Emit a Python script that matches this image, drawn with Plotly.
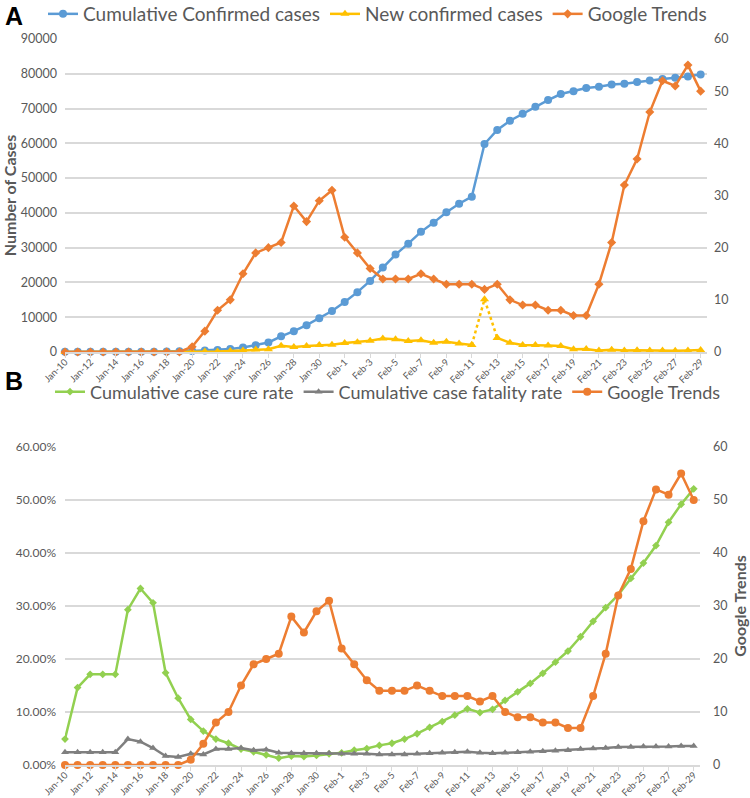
import plotly.graph_objects as go

W, H = 750, 798

dates = ([f"Jan-{d}" for d in range(10, 32)] + [f"Feb-{d}" for d in range(1, 30)])
tick_labels = dates[::2]

cum_confirmed = [41, 41, 41, 41, 41, 41, 45, 62, 121, 198,
                 291, 440, 571, 830, 1287, 1975, 2744, 4515, 5974, 7711,
                 9692, 11791, 14380, 17205, 20438, 24324, 28018, 31161, 34546, 37198,
                 40171, 42638, 44653, 59804, 63851, 66492, 68500, 70548, 72436, 74185,
                 75002, 75891, 76288, 76936, 77150, 77658, 78064, 78497, 78824, 79251,
                 79824]
new_cases = [0, 0, 0, 0, 0, 0, 4, 17, 59, 77,
             93, 149, 131, 259, 457, 688, 769, 1771, 1459, 1737,
             1981, 2099, 2589, 2825, 3233, 3886, 3694, 3143, 3385, 2652,
             2973, 2467, 2015, 15152, 4047, 2641, 2008, 2048, 1888, 1749,
             820, 889, 397, 648, 409, 508, 406, 433, 327, 427,
             573]
google_trends = [0, 0, 0, 0, 0, 0, 0, 0, 0, 0,
                 1, 4, 8, 10, 15, 19, 20, 21, 28, 25,
                 29, 31, 22, 19, 16, 14, 14, 14, 15, 14,
                 13, 13, 13, 12, 13, 10, 9, 9, 8, 8,
                 7, 7, 13, 21, 32, 37, 46, 52, 51, 55,
                 50]
cure_rate = [0.049, 0.146, 0.171, 0.171, 0.171, 0.293, 0.333, 0.306, 0.174, 0.126,
             0.086, 0.064, 0.049, 0.041, 0.030, 0.025, 0.019, 0.013, 0.017, 0.016,
             0.018, 0.021, 0.023, 0.028, 0.031, 0.037, 0.041, 0.049, 0.059, 0.071,
             0.082, 0.094, 0.106, 0.099, 0.105, 0.122, 0.138, 0.154, 0.173, 0.194,
             0.215, 0.242, 0.271, 0.297, 0.321, 0.352, 0.381, 0.414, 0.458, 0.492,
             0.521]
fatality_rate = [0.024, 0.024, 0.024, 0.024, 0.024, 0.049, 0.044, 0.032, 0.017, 0.015,
                 0.021, 0.020, 0.030, 0.030, 0.032, 0.028, 0.029, 0.023, 0.022, 0.022,
                 0.022, 0.022, 0.021, 0.021, 0.021, 0.020, 0.020, 0.020, 0.021, 0.022,
                 0.023, 0.024, 0.025, 0.023, 0.022, 0.023, 0.024, 0.025, 0.026, 0.027,
                 0.028, 0.030, 0.031, 0.032, 0.034, 0.034, 0.035, 0.035, 0.035, 0.036,
                 0.036]

BLUE = "#5B9BD5"
YELLOW = "#FFC000"
ORANGE = "#ED7D31"
GREEN = "#92D050"
GRAY = "#7F7F7F"
TXT = "#595959"
GRID = "#D9D9D9"
FONT = "Lato"

# spike segment (dotted) for new cases
spike = dates.index("Feb-12")
new_solid = [v if i != spike else None for i, v in enumerate(new_cases)]

fig = go.Figure()

# Panel A
fig.add_trace(go.Scatter(x=dates, y=cum_confirmed, name="Cumulative Confirmed cases",
                         mode="lines+markers", line=dict(color=BLUE, width=2.5),
                         marker=dict(symbol="circle", size=8, color=BLUE),
                         xaxis="x", yaxis="y", legend="legend", cliponaxis=False))
fig.add_trace(go.Scatter(x=dates, y=new_solid, name="New confirmed cases",
                         mode="lines+markers", line=dict(color=YELLOW, width=2.5),
                         marker=dict(symbol="triangle-up", size=8, color=YELLOW),
                         connectgaps=False,
                         xaxis="x", yaxis="y", legend="legend", cliponaxis=False))
fig.add_trace(go.Scatter(x=dates[spike - 1:spike + 2], y=new_cases[spike - 1:spike + 2],
                         mode="lines+markers", line=dict(color=YELLOW, width=2.5, dash="dot"),
                         marker=dict(symbol="triangle-up", size=8, color=YELLOW),
                         showlegend=False, xaxis="x", yaxis="y", cliponaxis=False))
fig.add_trace(go.Scatter(x=dates, y=google_trends, name="Google Trends",
                         mode="lines+markers", line=dict(color=ORANGE, width=2.5),
                         marker=dict(symbol="diamond", size=7, color=ORANGE),
                         xaxis="x", yaxis="y2", legend="legend", cliponaxis=False))

# Panel B
fig.add_trace(go.Scatter(x=dates, y=cure_rate, name="Cumulative case cure rate",
                         mode="lines+markers", line=dict(color=GREEN, width=2.5),
                         marker=dict(symbol="diamond", size=6, color=GREEN),
                         xaxis="x2", yaxis="y3", legend="legend2", cliponaxis=False))
fig.add_trace(go.Scatter(x=dates, y=fatality_rate, name="Cumulative case fatality rate",
                         mode="lines+markers", line=dict(color=GRAY, width=2.5),
                         marker=dict(symbol="triangle-up", size=7, color=GRAY),
                         xaxis="x2", yaxis="y3", legend="legend2", cliponaxis=False))
fig.add_trace(go.Scatter(x=dates, y=google_trends, name="Google Trends",
                         mode="lines+markers", line=dict(color=ORANGE, width=2.5),
                         marker=dict(symbol="circle", size=8, color=ORANGE),
                         xaxis="x2", yaxis="y4", legend="legend2", cliponaxis=False))


def px_x(p):
    return p / W


def px_y(p):
    return 1 - p / H


xa_common = dict(type="category", range=[0, 50.5], tickmode="array", tickvals=tick_labels,
                 ticktext=tick_labels, tickangle=-45, tickfont=dict(family=FONT, size=9.5, color=TXT),
                 showgrid=False, showline=True, linecolor=GRID, linewidth=1.5,
                 ticks="outside", ticklen=4, tickcolor=GRID, zeroline=False, automargin=False,
                 ticklabelstandoff=-5)
ya_common = dict(showgrid=True, gridcolor=GRID, gridwidth=1.5, zeroline=False,
                 tickfont=dict(family=FONT, size=12.5, color=TXT), showline=False, ticks="",
                 automargin=False)

fig.update_layout(
    template="none",
    width=W, height=H, margin=dict(l=0, r=0, t=0, b=0, autoexpand=False),
    paper_bgcolor="white", plot_bgcolor="white",
    font=dict(family=FONT, color=TXT),
    xaxis=dict(xa_common, domain=[px_x(65), px_x(707)], anchor="y"),
    yaxis=dict(ya_common, domain=[px_y(352), px_y(39)], range=[0, 90000], dtick=10000,
               tickformat="d", anchor="x", ticklabelstandoff=7,
               title=dict(text="<b>Number of Cases</b>", font=dict(family=FONT, size=16, color=TXT),
                          standoff=10)),
    yaxis2=dict(ya_common, overlaying="y", side="right", range=[0, 60], dtick=10,
                showgrid=False, anchor="x", ticklabelstandoff=6),
    xaxis2=dict(xa_common, domain=[px_x(65), px_x(700)], anchor="y3"),
    yaxis3=dict(ya_common, domain=[px_y(765), px_y(447)], range=[0, 0.6], dtick=0.1,
                tickformat=".2%", anchor="x2", ticklabelstandoff=8,
                tickfont=dict(family=FONT, size=12, color=TXT)),
    yaxis4=dict(ya_common, overlaying="y3", side="right", range=[0, 60], dtick=10,
                showgrid=False, anchor="x2", ticklabelstandoff=12,
                title=dict(text="<b>Google Trends</b>", font=dict(family=FONT, size=16, color=TXT),
                           standoff=8)),
    legend=dict(orientation="h", x=px_x(43), y=px_y(14), xanchor="left", yanchor="middle",
                font=dict(family=FONT, size=19, color=TXT), bgcolor="rgba(0,0,0,0)",
                itemwidth=30),
    legend2=dict(orientation="h", x=px_x(50), y=px_y(392), xanchor="left", yanchor="middle",
                 font=dict(family=FONT, size=18, color=TXT), bgcolor="rgba(0,0,0,0)",
                 itemwidth=30),
    annotations=[
        dict(text="<b>A</b>", x=px_x(3), y=px_y(16), xref="paper", yref="paper",
             xanchor="left", yanchor="middle", showarrow=False,
             font=dict(family="Liberation Sans", size=25, color="black")),
        dict(text="<b>B</b>", x=px_x(3), y=px_y(381), xref="paper", yref="paper",
             xanchor="left", yanchor="middle", showarrow=False,
             font=dict(family="Liberation Sans", size=25, color="black")),
    ],
)

fig.write_html("out.html", config={"displayModeBar": False},
               post_script="document.body.style.margin='0';document.body.style.padding='0';"
                           "document.body.style.overflow='hidden';")
